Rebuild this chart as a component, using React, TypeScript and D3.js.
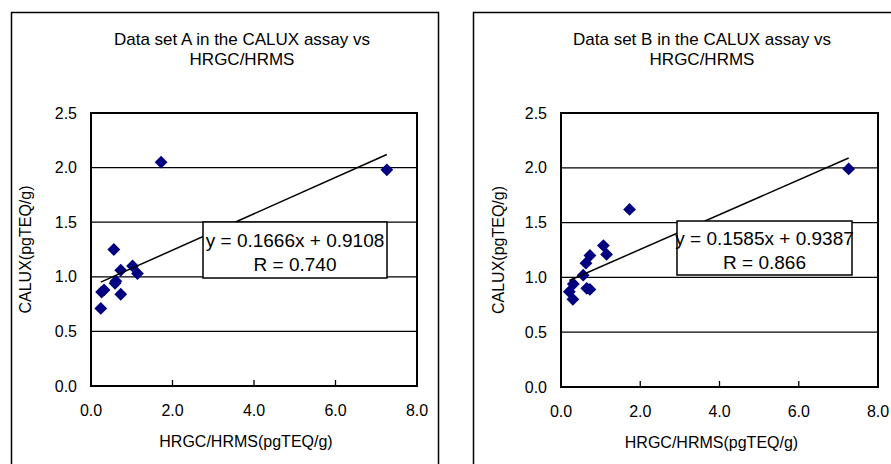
import React from 'react';
import * as d3 from 'd3';

// data
const xTicks = [0, 2, 4, 6, 8];
const yTicks = [0, 0.5, 1.0, 1.5, 2.0, 2.5];

const setAx = [0.24, 0.26, 0.32, 0.59, 0.61, 0.56, 0.73, 0.73, 1.02, 1.14, 1.72, 7.26];
const setAy = [0.71, 0.86, 0.88, 0.94, 0.96, 1.25, 1.06, 0.84, 1.1, 1.03, 2.05, 1.98];

const setBx = [0.21, 0.3, 0.31, 0.56, 0.63, 0.65, 0.73, 0.73, 1.07, 1.15, 1.73, 7.26];
const setBy = [0.87, 0.8, 0.94, 1.02, 1.13, 0.9, 0.89, 1.2, 1.29, 1.21, 1.62, 1.99];

const fitA = { slope: 0.1666, intercept: 0.9108, r: '0.740' };
const fitB = { slope: 0.1585, intercept: 0.9387, r: '0.866' };

const FONT = '"Liberation Sans", Arial, sans-serif';

type Layout = {
  frame: [number, number];
  plot: { left: number; top: number; right: number; bottom: number };
  titleX: number;
  yTitleX: number;
  box: { x: number; y: number; w: number; h: number };
};

function Chart({ name, xs, ys, fit, lay }: { name: string; xs: number[]; ys: number[]; fit: typeof fitA; lay: Layout }) {
  const p = lay.plot;
  const x = d3.scaleLinear().domain([0, 8]).range([p.left, p.right]);
  const y = d3.scaleLinear().domain([0, 2.5]).range([p.bottom, p.top]);
  const lo = d3.min(xs)!, hi = d3.max(xs)!;
  const line = d3.line<number>().x(v => x(v)).y(v => y(fit.slope * v + fit.intercept));
  const diamond = d3.symbol().type(d3.symbolSquare).size(82)();
  const b = lay.box;

  return (
    <g fontFamily={FONT}>
      <rect x={lay.frame[0]} y={lay.frame[1]} width={lay.frame[0] < 100 ? 427 : 440} height={470}
        fill="white" stroke="black" strokeWidth={1.5} />
      <text x={lay.titleX} y={39} dy="0.35em" textAnchor="middle" fontSize={17}>Data set {name} in the CALUX assay vs</text>
      <text x={lay.titleX} y={59} dy="0.35em" textAnchor="middle" fontSize={17}>HRGC/HRMS</text>

      {yTicks.slice(1, -1).map(t => (
        <line key={t} x1={p.left} x2={p.right} y1={y(t)} y2={y(t)} stroke="black" strokeWidth={1.3} />
      ))}
      {xTicks.slice(1, -1).map(t => (
        <line key={t} x1={x(t)} x2={x(t)} y1={p.bottom} y2={p.bottom - 6} stroke="black" strokeWidth={1.3} />
      ))}
      <rect x={p.left} y={p.top} width={p.right - p.left} height={p.bottom - p.top}
        fill="none" stroke="black" strokeWidth={2} />

      {yTicks.map(t => (
        <text key={t} x={p.left - 14} y={y(t)} dy="0.35em" textAnchor="end" fontSize={16}>{t.toFixed(1)}</text>
      ))}
      {xTicks.map(t => (
        <text key={t} x={x(t)} y={p.bottom + 24} dy="0.35em" textAnchor="middle" fontSize={16}>{t.toFixed(1)}</text>
      ))}
      <text x={(p.left + p.right) / 2 - 8} y={p.bottom + 55} dy="0.35em" textAnchor="middle" fontSize={16}>HRGC/HRMS(pgTEQ/g)</text>
      <text transform={`translate(${lay.yTitleX},${(p.top + p.bottom) / 2}) rotate(-90)`} dy="0.35em"
        textAnchor="middle" fontSize={16}>CALUX(pgTEQ/g)</text>

      {xs.map((v, i) => (
        <path key={i} d={diamond!} transform={`translate(${x(v)},${y(ys[i])}) rotate(45)`} fill="#000080" />
      ))}
      <path d={line([lo, hi])!} fill="none" stroke="black" strokeWidth={1.5} />

      <rect x={b.x} y={b.y} width={b.w} height={b.h} fill="white" stroke="black" strokeWidth={1.5} />
      <text x={b.x + b.w / 2} y={b.y + b.h * 0.32} dy="0.35em" textAnchor="middle" fontSize={19}>
        y = {fit.slope.toFixed(4)}x + {fit.intercept.toFixed(4)}
      </text>
      <text x={b.x + b.w / 2} y={b.y + b.h * 0.76} dy="0.35em" textAnchor="middle" fontSize={19}>
        R = {fit.r}
      </text>
    </g>
  );
}

const layA: Layout = {
  frame: [11.5, 12.5],
  plot: { left: 91, top: 113, right: 417, bottom: 386 },
  titleX: 242,
  yTitleX: 25,
  box: { x: 203, y: 222, w: 184, h: 56 },
};

const layB: Layout = {
  frame: [473.5, 12.5],
  plot: { left: 561, top: 113, right: 878, bottom: 387 },
  titleX: 702,
  yTitleX: 498,
  box: { x: 677, y: 221, w: 175, h: 54 },
};

export default function App() {
  return (
    <div style={{ position: 'fixed', left: 0, top: 0 }}>
      <svg width={891} height={464} style={{ display: 'block', background: 'white' }}>
        <Chart name="A" xs={setAx} ys={setAy} fit={fitA} lay={layA} />
        <Chart name="B" xs={setBx} ys={setBy} fit={fitB} lay={layB} />
      </svg>
    </div>
  );
}
